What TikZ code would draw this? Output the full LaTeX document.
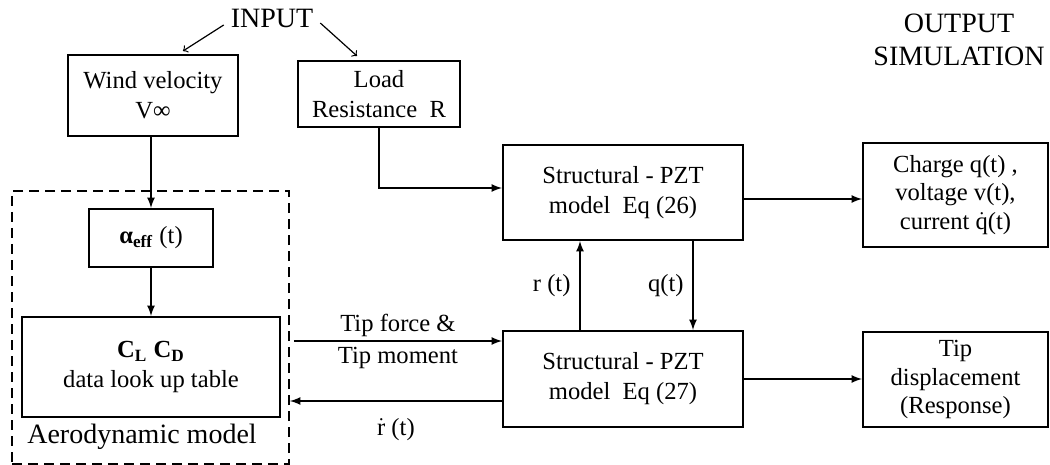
\documentclass[tikz,border=0pt]{standalone}
\usepackage{fontspec}
\setmainfont{Liberation Serif}
\usetikzlibrary{positioning, arrows}
\newcommand{\tdot}[1]{\smash{\ensuremath{\dot{\mbox{#1}}}}}

\begin{document}
\begin{tikzpicture}[
        % pixel grid of the sketch, y downwards
        x=0.5pt,
        y=-0.5pt,
        >=latex,
        every node/.style={font=\fontsize{12.3pt}{15pt}\selectfont, align=center},
        block/.style={draw, line width=1pt, inner sep=2pt},
        head/.style={font=\fontsize{14pt}{17.5pt}\selectfont},
        arr/.style={->, line width=0.8pt},
        inarr/.style={->, >=to, line width=0.6pt}
    ]
    \useasboundingbox (0,0) rectangle (1050,465);

    \node[head] (input) at (272,18) {INPUT};
    \node[head] (output) at (959,40) {OUTPUT\\[-1pt]SIMULATION};

    \node[block, minimum width=85pt, minimum height=40.5pt] (wind) at (153,95.5) {Wind velocity\\V∞};
    \node[block, minimum width=81pt, minimum height=33pt] (load) at (379,94) {Load\\Resistance~ R};

    \node[draw, line width=0.9pt, dash pattern=on 5pt off 3pt, minimum width=138.5pt,
          minimum height=136.5pt, inner sep=0pt] (aerobox) at (150.5,327.5) {};
    \node[block, minimum width=62pt, minimum height=29pt] (alpha) at (151,238)
        {\textbf{α}\textsubscript{\textbf{eff}} (t)};
    \node[block, minimum width=129pt, minimum height=50pt] (clcd) at (151,367)
        {\textbf{C\textsubscript{L} C\textsubscript{D}}\\data look up table};
    \node[head] (aerolbl) at (142,437) {Aerodynamic model};

    \node[block, minimum width=120pt, minimum height=47.5pt] (s26) at (623,192.5) {Structural - PZT\\model~ Eq (26)};
    \node[block, minimum width=120pt, minimum height=48pt] (s27) at (623,379) {Structural - PZT\\model~ Eq (27)};

    \node[block, minimum width=92.5pt, minimum height=52pt, font=\fontsize{12.3pt}{14.3pt}\selectfont]
        (charge) at (955.5,195) {Charge q(t) ,\\voltage v(t),\\current \tdot{q}(t)};
    \node[block, minimum width=92.5pt, minimum height=47.5pt, font=\fontsize{12.3pt}{14.3pt}\selectfont]
        (tip) at (955.5,379.5) {Tip\\displacement\\(Response)};

    \coordinate (tipf) at ([yshift=19pt]s27.west);
    \coordinate (rdot) at ([yshift=-11pt]s27.west);

    \draw[inarr] ([yshift=-3.5pt]input.west) -- ([shift={(15pt,1.5pt)}]wind.north);
    \draw[inarr] ([yshift=-2.5pt]input.east) -- ([shift={(-11pt,2pt)}]load.north);

    \draw[arr] (wind.south -| alpha.north) -- (alpha.north);
    \draw[arr] (alpha.south) -- (clcd.north);
    \draw[arr] (load.south) |- ([yshift=2.25pt]s26.west);

    \draw[arr] ([xshift=2pt]aerobox.east |- tipf) -- node{Tip force \&\\[1pt]Tip moment} (tipf);
    \draw[arr] (rdot) -- node[below=5pt]{\tdot{r} (t)} (rdot -| aerobox.east);

    \draw[arr] ([xshift=-21.5pt]s27.north) -- node[left=1pt]{r (t)} ([xshift=-21.5pt]s26.south);
    \draw[arr] ([xshift=35pt]s26.south) -- node[left=1pt]{q(t)} ([xshift=35pt]s27.north);

    \draw[arr] ([yshift=-3.25pt]s26.east) -- ([yshift=-3.25pt]s26.east -| charge.west);
    \draw[arr] (s27.east) -- (s27.east -| tip.west);
\end{tikzpicture}
\end{document}
